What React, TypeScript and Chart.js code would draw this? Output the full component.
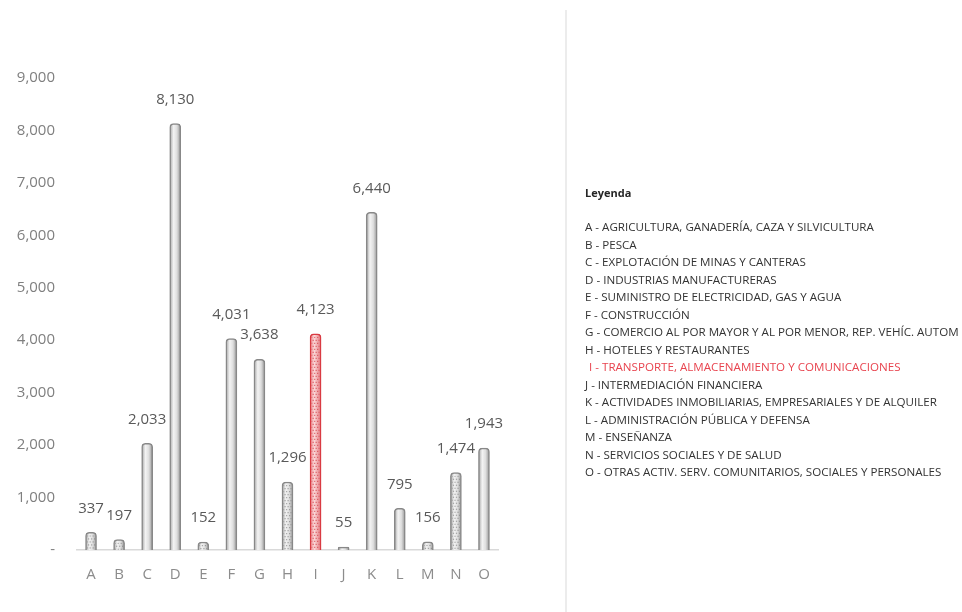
import { useEffect, useRef } from "react";
import { Chart, registerables } from "chart.js";

Chart.register(...registerables);

// Sector codes shown on the category axis
const categories = ["A", "B", "C", "D", "E", "F", "G", "H", "I", "J", "K", "L", "M", "N", "O"];

// Value per sector
const values = [337, 197, 2033, 8130, 152, 4031, 3638, 1296, 4123, 55, 6440, 795, 156, 1474, 1943];

// Value-axis ticks
const yTickValues = [0, 1000, 2000, 3000, 4000, 5000, 6000, 7000, 8000, 9000];

const legendTitle = "Leyenda";
const legendLabels = [
  "A - AGRICULTURA, GANADERÍA, CAZA Y SILVICULTURA",
  "B - PESCA",
  "C - EXPLOTACIÓN DE MINAS Y CANTERAS",
  "D - INDUSTRIAS MANUFACTURERAS",
  "E - SUMINISTRO DE ELECTRICIDAD, GAS Y AGUA",
  "F - CONSTRUCCIÓN",
  "G - COMERCIO AL POR MAYOR Y AL POR MENOR, REP. VEHÍC. AUTOM",
  "H - HOTELES Y RESTAURANTES",
  "I - TRANSPORTE, ALMACENAMIENTO Y COMUNICACIONES",
  "J - INTERMEDIACIÓN FINANCIERA",
  "K - ACTIVIDADES INMOBILIARIAS, EMPRESARIALES Y DE ALQUILER",
  "L - ADMINISTRACIÓN PÚBLICA Y DEFENSA",
  "M - ENSEÑANZA",
  "N - SERVICIOS SOCIALES Y DE SALUD",
  "O - OTRAS ACTIV. SERV. COMUNITARIOS, SOCIALES Y PERSONALES",
];

// Sector emphasised in red
const highlightedCategory = "I";
// Bars drawn with a dotted texture
const texturedCategories = ["A", "B", "E", "H", "I", "M", "N"];

const FONT = "'Open Sans', 'DejaVu Sans', sans-serif";
const BAR_WIDTH = 11;

const fmt = (v: number) => v.toLocaleString("en-US");
const isHighlighted = (i: number) => categories[i] === highlightedCategory;

// Horizontal gradient that gives each bar a cylinder look
function barFill(ctx: any) {
  const chart = ctx.chart;
  const xs = chart.scales?.x;
  const hl = isHighlighted(ctx.dataIndex);
  if (!xs || !chart.chartArea) return hl ? "#f3a9ab" : "#e0e0e0";
  const cx = xs.getPixelForValue(ctx.dataIndex);
  const g = chart.ctx.createLinearGradient(cx - BAR_WIDTH / 2, 0, cx + BAR_WIDTH / 2, 0);
  if (hl) {
    g.addColorStop(0, "#ec8a8f");
    g.addColorStop(0.4, "#fbd6d7");
    g.addColorStop(1, "#e0747a");
  } else {
    g.addColorStop(0, "#a4a4a4");
    g.addColorStop(0.35, "#f3f3f3");
    g.addColorStop(0.65, "#dedede");
    g.addColorStop(1, "#949494");
  }
  return g;
}

const barTexture = {
  id: "barTexture",
  afterDatasetsDraw(chart: any) {
    const ctx = chart.ctx;
    const meta = chart.getDatasetMeta(0);
    meta.data.forEach((bar: any, i: number) => {
      if (!texturedCategories.includes(categories[i])) return;
      const { x, y, base, width } = bar.getProps(["x", "y", "base", "width"], true);
      const hl = isHighlighted(i);
      ctx.save();
      ctx.beginPath();
      ctx.rect(x - width / 2 + 1.5, y + 3, width - 3, base - y - 3);
      ctx.clip();
      ctx.fillStyle = hl ? "rgba(205,35,45,0.6)" : "rgba(95,95,95,0.5)";
      let row = 0;
      for (let yy = y + 3; yy < base; yy += 3, row++) {
        const shift = (row % 2) * 1.5;
        for (let xx = x - width / 2 + 1 + shift; xx < x + width / 2; xx += 3) {
          ctx.fillRect(xx, yy, 1.2, 1.2);
        }
      }
      ctx.restore();
    });
  },
};

const valueLabels = {
  id: "valueLabels",
  afterDatasetsDraw(chart: any) {
    const ctx = chart.ctx;
    const meta = chart.getDatasetMeta(0);
    ctx.save();
    ctx.font = `15px ${FONT}`;
    ctx.fillStyle = "#595959";
    ctx.textAlign = "center";
    ctx.textBaseline = "middle";
    meta.data.forEach((bar: any, i: number) => {
      const { x, y } = bar.getProps(["x", "y"], true);
      ctx.fillText(fmt(values[i]), x, y - 24);
    });
    ctx.restore();
  },
};

// Divider and the sector key on the right-hand side
const legendPanel = {
  id: "legendPanel",
  afterDraw(chart: any) {
    const ctx = chart.ctx;
    ctx.save();
    ctx.strokeStyle = "#ececec";
    ctx.lineWidth = 2;
    ctx.beginPath();
    ctx.moveTo(566, 10);
    ctx.lineTo(566, chart.height);
    ctx.stroke();

    ctx.textBaseline = "middle";
    ctx.textAlign = "left";
    ctx.font = `11.6px ${FONT}`;
    const squeeze = Math.min(1, 290 / ctx.measureText(legendLabels[0]).width);

    ctx.font = `bold 11px ${FONT}`;
    ctx.fillStyle = "#262626";
    ctx.fillText(legendTitle, 585, 194, ctx.measureText(legendTitle).width * squeeze);

    ctx.font = `11.6px ${FONT}`;
    legendLabels.forEach((t, i) => {
      const hl = t.startsWith(highlightedCategory + " ");
      ctx.fillStyle = hl ? "#e8444f" : "#333333";
      ctx.fillText(t, hl ? 589 : 585, 228 + i * 17.5, ctx.measureText(t).width * squeeze);
    });
    ctx.restore();
  },
};

export default function App() {
  const canvasRef = useRef<HTMLCanvasElement | null>(null);

  useEffect(() => {
    const canvas = canvasRef.current;
    if (!canvas) return;
    const chart = new Chart(canvas, {
      type: "bar",
      data: {
        labels: categories,
        datasets: [
          {
            data: values,
            backgroundColor: barFill as any,
            borderColor: ((c: any) => (isHighlighted(c.dataIndex) ? "#d93a42" : "#888888")) as any,
            borderWidth: 1.5,
            borderSkipped: "bottom",
            borderRadius: { topLeft: 4, topRight: 4, bottomLeft: 0, bottomRight: 0 },
            barThickness: BAR_WIDTH,
          },
        ],
      },
      options: {
        responsive: false,
        animation: false,
        devicePixelRatio: 1,
        layout: { padding: { left: 17, top: 78, right: 464, bottom: 22 } },
        plugins: { legend: { display: false }, tooltip: { enabled: false } },
        scales: {
          x: {
            grid: { display: false, drawTicks: false },
            border: { display: true, color: "#d9d9d9", width: 1.5 },
            ticks: { color: "#8c8c8c", font: { size: 15, family: FONT }, padding: 16 },
            afterFit: (s: any) => {
              s.height = 40;
            },
          },
          y: {
            min: 0,
            max: 9000,
            grid: { display: false, drawTicks: false },
            border: { display: false },
            afterBuildTicks: (s: any) => {
              s.ticks = yTickValues.map((v) => ({ value: v }));
            },
            ticks: {
              color: "#7f7f7f",
              font: { size: 15, family: FONT },
              padding: 22,
              callback: (v: any) => (Number(v) === 0 ? "-" : fmt(Number(v))),
            },
            afterFit: (s: any) => {
              s.width = 60;
            },
          },
        },
      },
      plugins: [barTexture, valueLabels, legendPanel],
    });
    return () => chart.destroy();
  }, []);

  return (
    <div style={{ position: "absolute", left: 0, top: 0, width: 962, height: 612, background: "#fff" }}>
      <canvas ref={canvasRef} width={962} height={612} style={{ display: "block" }} />
    </div>
  );
}
